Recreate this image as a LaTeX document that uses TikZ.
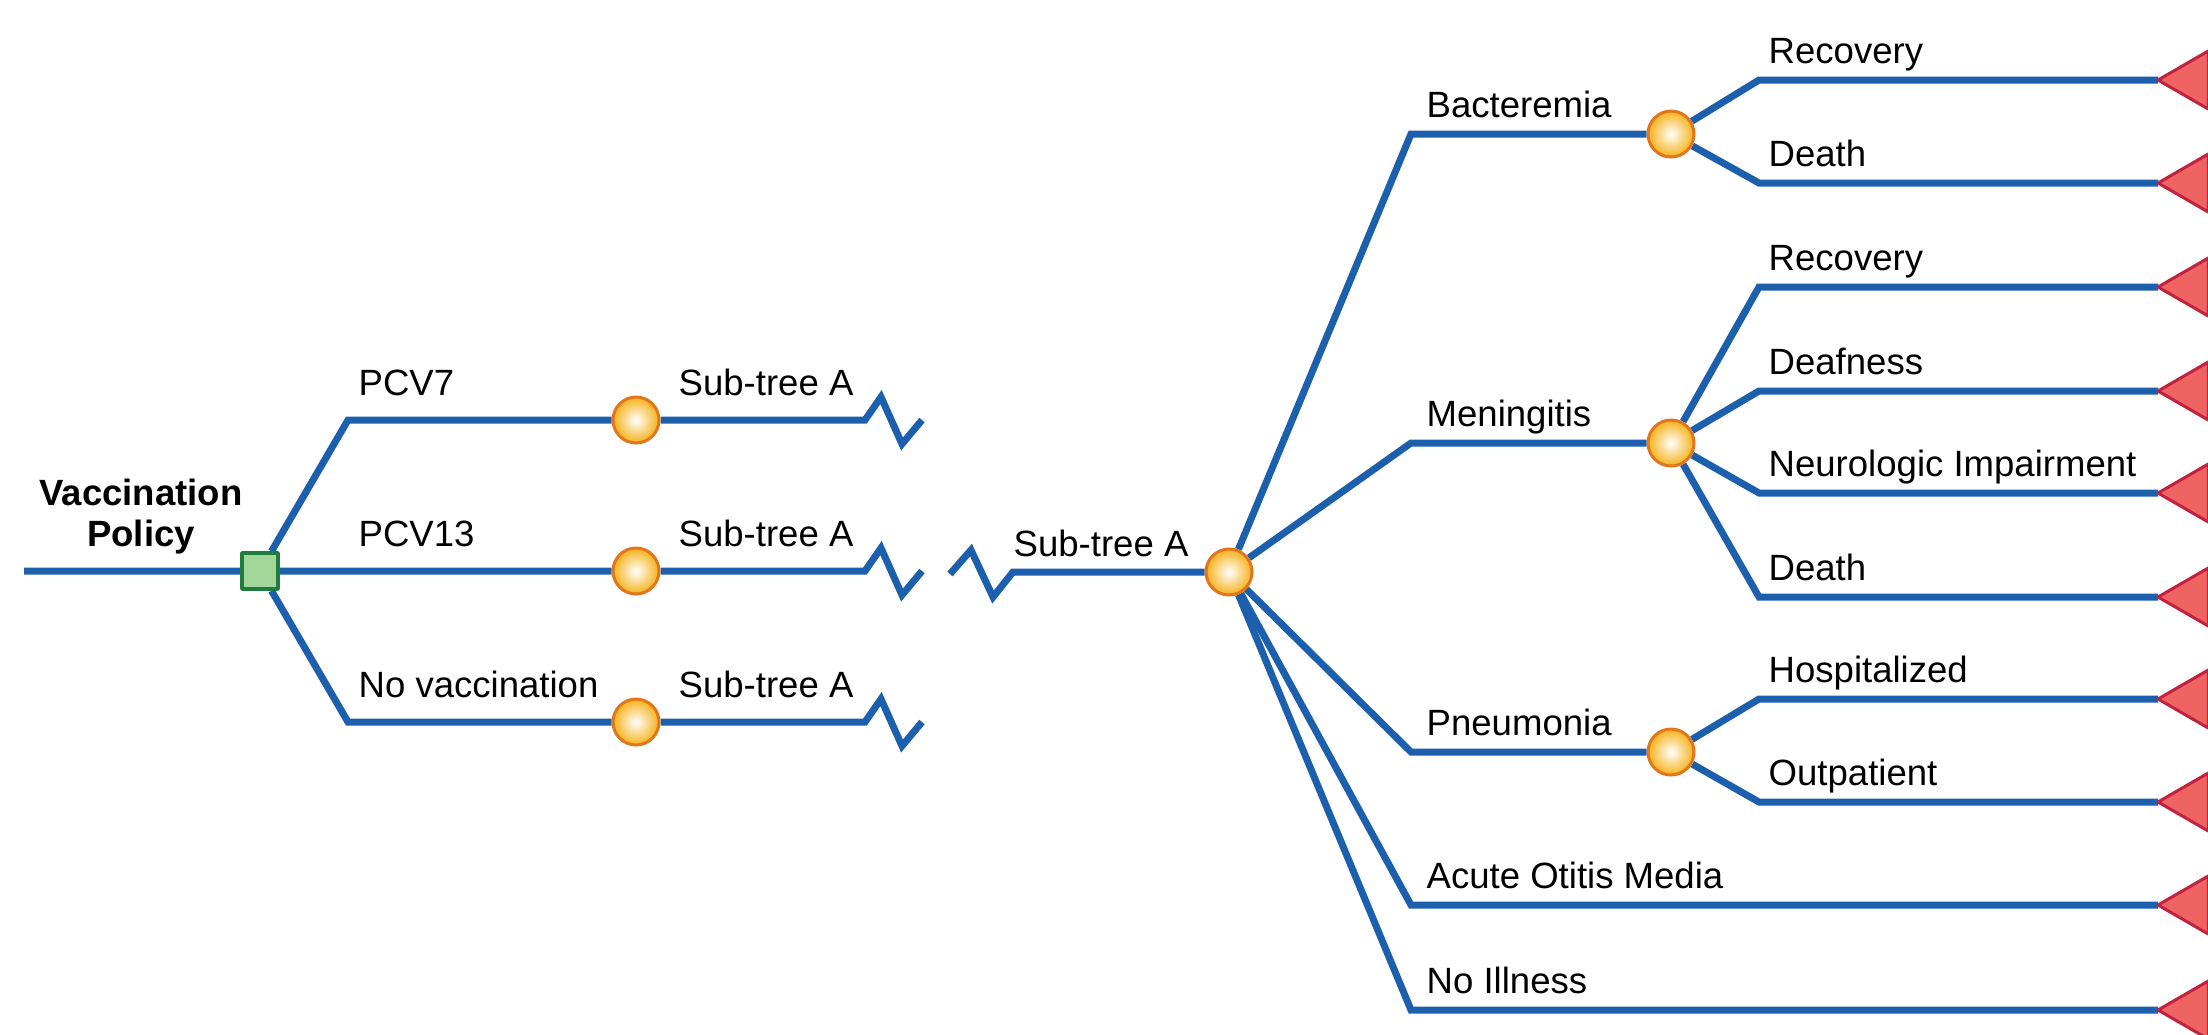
\documentclass[tikz,border=0pt]{standalone}
\usepackage{fontspec}
\setmainfont{Liberation Sans}
\usetikzlibrary{shapes.geometric,calc,backgrounds,positioning}
\definecolor{treeblue}{HTML}{1C5FAD}
\definecolor{decfill}{HTML}{A3D79A}
\definecolor{decdraw}{HTML}{1E7C3C}
\definecolor{chfill}{HTML}{F5B21A}
\definecolor{chdraw}{HTML}{E2761C}
\definecolor{endfill}{HTML}{EF6362}
\definecolor{enddraw}{HTML}{C1223F}
\tikzset{
  decision/.style={rectangle,draw=decdraw,fill=decfill,line width=0.35mm,minimum size=3.6mm,inner sep=0pt},
  chance/.style={circle,draw=chdraw,line width=0.3mm,inner color=white,outer color=chfill,minimum size=4.6mm,inner sep=0pt},
  terminal/.style={regular polygon,regular polygon sides=3,shape border rotate=90,draw=enddraw,fill=endfill,line width=0.3mm,minimum size=6.7mm,inner sep=0pt,outer sep=0pt,anchor=corner 1},
  lbl/.style={anchor=base west,inner sep=0pt,font=\fontsize{10.4}{12}\selectfont},
  branch/.style={draw=treeblue,line width=0.7mm}
}
\begin{document}
\begin{tikzpicture}[x=0.1mm,y=-0.1mm,line join=round,line cap=round]
\useasboundingbox (0,0) rectangle (2208,1034);
\coordinate (R) at (24,571);
\node[decision] (D) at (260,571) {};
\node[align=center,anchor=base,inner sep=0pt,font=\bfseries\fontsize{10.4}{11.4}\selectfont] (V) at (141,546) {Vaccination\\Policy};
\foreach \i/\y/\t in {1/420/PCV7,2/571/PCV13,3/722/No vaccination}{
  \coordinate (a\i) at (348,\y);
  \node[chance] (s\i) at (636,\y) {};
  \coordinate (z\i) at (865,\y);
  \node[lbl] (l\i) at (358,\y-25) {\t};
  \node[lbl] (u\i) at (678,\y-25) {Sub-tree A};
}
\coordinate (w) at (950,574);
\node[chance] (C) at (1229,572) {};
\node[lbl] (uc) at (1013,556) {Sub-tree A};
\foreach \i/\y/\t in {b/134/Bacteremia,m/443/Meningitis,p/752/Pneumonia}{
  \coordinate (k\i) at (1411,\y);
  \node[chance] (\i) at (1671,\y) {};
  \node[lbl] (l\i) at (1426,\y-17) {\t};
}
\foreach \n/\y/\t in {1/80/Recovery,2/183/Death,3/287/Recovery,4/391/Deafness,5/493/Neurologic Impairment,6/597/Death,7/699/Hospitalized,8/802/Outpatient}{
  \coordinate (e\n) at (1759,\y);
  \node[terminal] (t\n) at (2158,\y) {};
  \node[lbl] (o\n) at (1768,\y-17) {\t};
}
\foreach \n/\y/\t in {9/905/Acute Otitis Media,10/1010/No Illness}{
  \coordinate (e\n) at (1411,\y);
  \node[terminal] (t\n) at (2158,\y) {};
  \node[lbl] (o\n) at (1426,\y-17) {\t};
}
\begin{scope}[on background layer={branch}]
\draw[branch] (R)--(D) (D)--(a1)--(s1) (D)--(s2) (D)--(a3)--(s3);
\foreach \i in {1,2,3}{\draw[branch] (s\i)--(z\i)--++(16,-23)--++(21,47)--++(20,-24);}
\draw[branch] (w)--++(21,-24)--++(22,47)--++(20,-25)--(C);
\foreach \i in {b,m,p}{\draw[branch] (C)--(k\i)--(\i);}
\foreach \n in {9,10}{\draw[branch] (C)--(e\n)--(t\n);}
\foreach \s/\n in {b/1,b/2,m/3,m/4,m/5,m/6,p/7,p/8}{\draw[branch] (\s)--(e\n)--(t\n);}
\end{scope}
\end{tikzpicture}
\end{document}
